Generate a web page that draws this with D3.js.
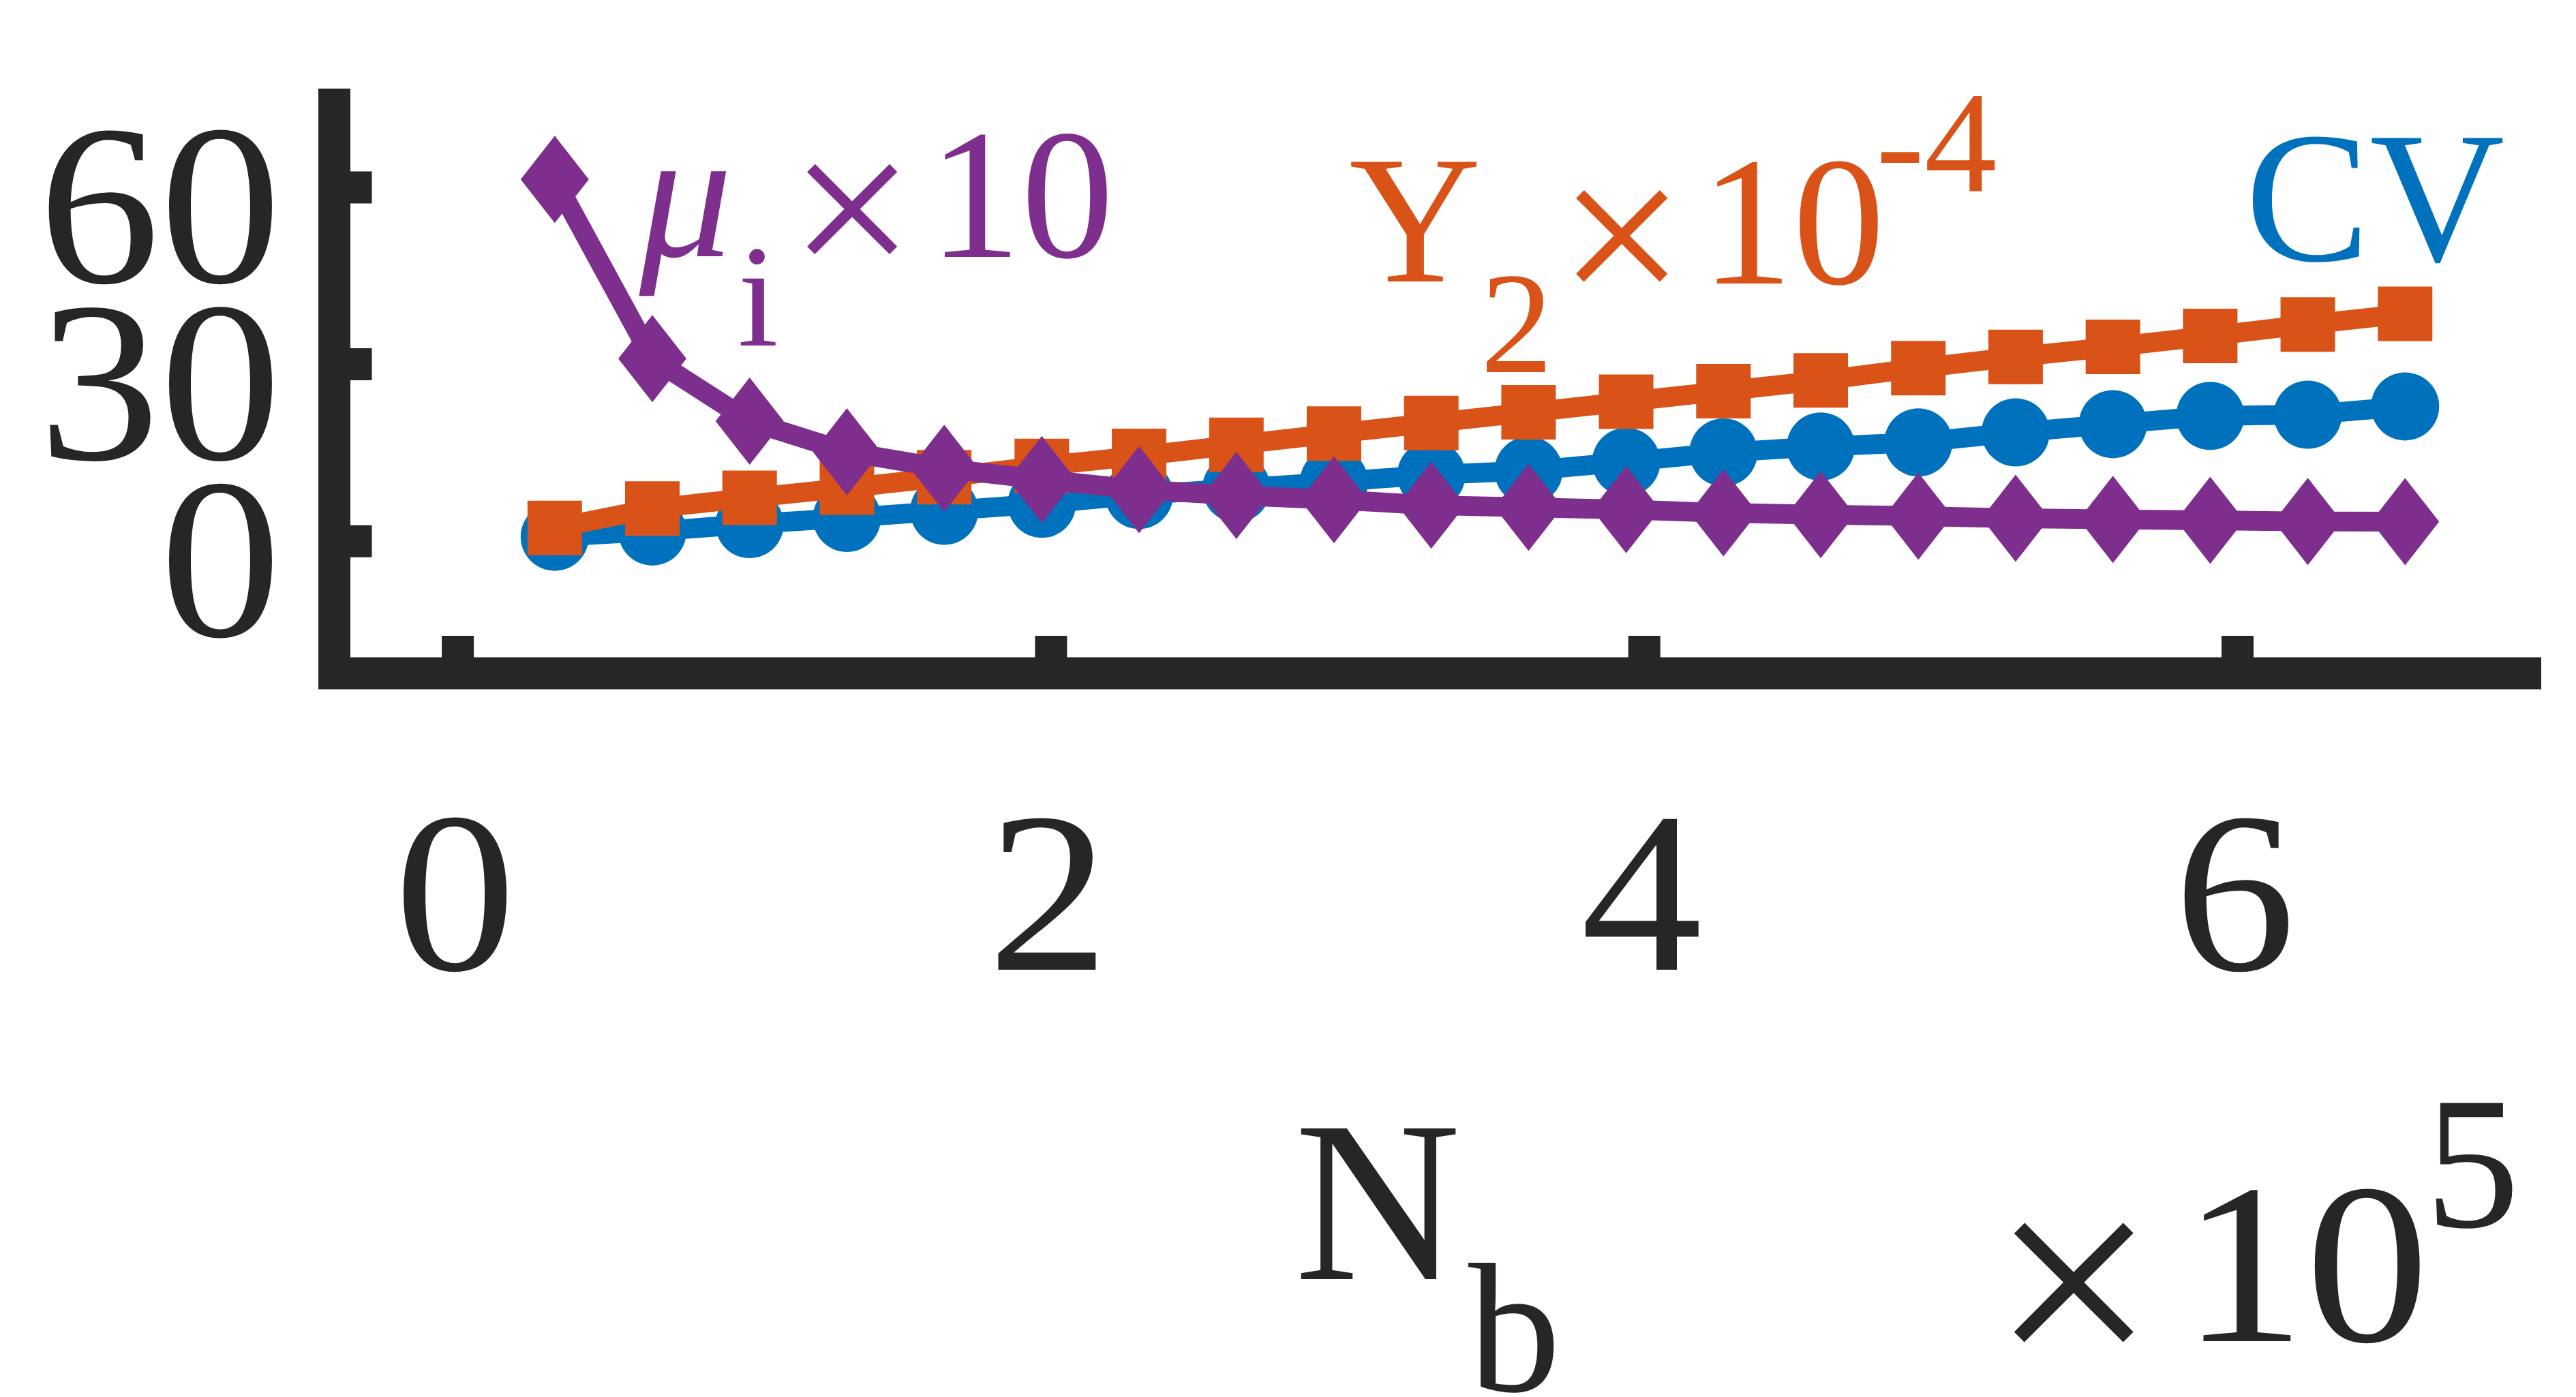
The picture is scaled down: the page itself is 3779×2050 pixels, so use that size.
<!DOCTYPE html>
<html>
<head>
<meta charset="utf-8">
<script src="https://cdn.jsdelivr.net/npm/d3@7"></script>
<style>
html, body { margin: 0; padding: 0; background: #ffffff; }
svg { display: block; }
</style>
</head>
<body>
<svg id="chart" width="3779" height="2050"></svg>
<script>
// ---- data ----
const nbValues = [0.328, 0.657, 0.985, 1.313, 1.641, 1.970, 2.298, 2.626, 2.955, 3.283,
                  3.611, 3.940, 4.268, 4.596, 4.925, 5.253, 5.581, 5.909, 6.238, 6.566];
const cvValues = [0.7, 1.6, 2.85, 3.9, 5.1, 6.3, 7.8, 8.9, 10.0, 11.2,
                  11.9, 13.4, 15.0, 16.0, 16.7, 18.4, 19.8, 21.2, 21.4, 22.8];
const y2Values = [2.2, 5.5, 7.3, 9.0, 10.8, 12.7, 14.4, 16.3, 18.2, 20.0,
                  21.8, 23.6, 25.4, 27.2, 29.3, 31.2, 32.9, 34.75, 36.7, 38.5];
const muValues = [61.3, 30.9, 20.3, 15.1, 12.3, 10.4, 8.7, 7.7, 7.0, 6.05,
                  5.7, 5.3, 4.75, 4.45, 4.2, 3.85, 3.65, 3.5, 3.3, 3.25];
const xTickValues = [0, 2, 4, 6];
const yTickValues = [0, 30, 60];

// ---- setup ----
const W = 3779, H = 2050;
const AX = "#262626";
const FONT = "\"Liberation Serif\"";
const AXIS_LW = 47;
const LINE_W = 29;
const TICK_SX = 1.06;
const svg = d3.select("#chart");
svg.append("rect").attr("width", W).attr("height", H).attr("fill", "#ffffff");

const x = d3.scaleLinear().domain([-0.415, 7.025]).range([490.5, 3728]);
const y = d3.scaleLinear().domain([-22.45, 76.7]).range([988, 130]);

// ---- series ----
const diamondType = {
  draw(ctx) {
    const w = 50, h = 64;
    ctx.moveTo(0, -h); ctx.lineTo(w, 0); ctx.lineTo(0, h); ctx.lineTo(-w, 0); ctx.closePath();
  }
};
const series = [
  { values: cvValues, color: "#0072BD", symbol: d3.symbolCircle, size: Math.PI * 50 * 50 },
  { values: y2Values, color: "#D95319", symbol: d3.symbolSquare, size: 80 * 80 },
  { values: muValues, color: "#7E2F8E", symbol: diamondType, size: 1 }
];
const line = d3.line().x((d, i) => x(nbValues[i])).y(d => y(d));
series.forEach(s => {
  const g = svg.append("g");
  g.append("path")
    .attr("d", line(s.values))
    .attr("fill", "none")
    .attr("stroke", s.color)
    .attr("stroke-width", LINE_W)
    .attr("stroke-linejoin", "round");
  g.selectAll("path.marker")
    .data(s.values)
    .join("path")
    .attr("class", "marker")
    .attr("transform", (d, i) => `translate(${x(nbValues[i])},${y(d)})`)
    .attr("d", d3.symbol(s.symbol, s.size))
    .attr("fill", s.color);
});

// ---- axes ----
const yAxis = d3.axisLeft(y).tickValues(yTickValues).tickSize(-55).tickSizeOuter(0).tickFormat(d3.format("d"));
const gy = svg.append("g").attr("transform", `translate(${x.range()[0]},0)`).call(yAxis)
  .attr("font-family", FONT).attr("font-size", 336);
gy.select(".domain").remove();
gy.selectAll(".tick line").attr("stroke", AX).attr("stroke-width", AXIS_LW);
gy.selectAll(".tick text").attr("x", -78 / TICK_SX).attr("y", 139).attr("dy", null)
  .attr("transform", `scale(${TICK_SX},1)`)
  .attr("text-anchor", "end").attr("fill", AX);

const xAxis = d3.axisBottom(x).tickValues(xTickValues).tickSize(-55).tickSizeOuter(0).tickFormat(d3.format("d"));
const gx = svg.append("g").attr("transform", `translate(0,${y.range()[0]})`).call(xAxis)
  .attr("font-family", FONT).attr("font-size", 336);
gx.select(".domain").remove();
gx.selectAll(".tick line").attr("stroke", AX).attr("stroke-width", AXIS_LW);
gx.selectAll(".tick text").attr("x", -4 / TICK_SX).attr("y", 435).attr("dy", null)
  .attr("transform", `scale(${TICK_SX},1)`)
  .attr("text-anchor", "middle").attr("fill", AX);

// axis lines
svg.append("line")
  .attr("x1", x.range()[0]).attr("x2", x.range()[0])
  .attr("y1", y.range()[1]).attr("y2", y.range()[0])
  .attr("stroke", AX).attr("stroke-width", AXIS_LW);
svg.append("line")
  .attr("x1", x.range()[0] - AXIS_LW / 2).attr("x2", x.range()[1])
  .attr("y1", y.range()[0]).attr("y2", y.range()[0])
  .attr("stroke", AX).attr("stroke-width", AXIS_LW);

// ---- text labels ----
function label(txt, px, py, size, color, anchor, italic, sx) {
  const k = sx || 1;
  svg.append("text")
    .attr("transform", `translate(${px},${py}) scale(${k},1)`)
    .attr("font-family", FONT)
    .attr("font-size", size)
    .attr("font-style", italic ? "italic" : "normal")
    .attr("text-anchor", anchor || "middle")
    .attr("fill", color)
    .text(txt);
}
const PURPLE = "#7E2F8E", ORANGE = "#D95319", BLUE = "#0072BD";
// mu_i x 10
label("\u03BC", 1006, 376, 272, PURPLE, "middle", true);
label("i", 1112, 507, 214, PURPLE);
label("\u00D7", 1250, 415, 325, PURPLE);
label("10", 1498, 377, 272, PURPLE);
// Y_2 x 10^-4
label("Y", 2076, 413, 268, ORANGE);
label("2", 2225, 546, 213, ORANGE);
label("\u00D7", 2379, 456, 330, ORANGE);
label("10", 2630, 416, 270, ORANGE);
label("-4", 2752, 281, 213, ORANGE, "start");
// CV
label("CV", 3484, 382, 274, BLUE);
// x-axis label N_b and multiplier
label("N", 1899, 1877, 338, AX, "start");
label("b", 2154, 2041, 271, AX, "start");
label("\u00D7", 3042, 2025, 430, AX);
label("10", 3382, 1968, 336, AX, "middle", false, 1.08);
label("5", 3627, 1800, 277, AX);
</script>
</body>
</html>
